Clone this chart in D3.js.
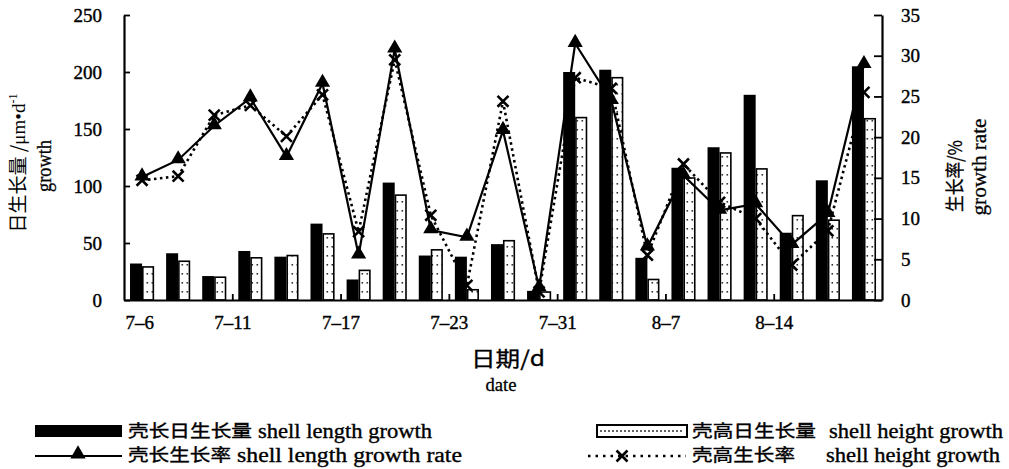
<!DOCTYPE html>
<html>
<head>
<meta charset="utf-8">
<script src="https://cdn.jsdelivr.net/npm/d3@7"></script>
<style>
  html, body { margin: 0; padding: 0; background: #fff; }
  svg { display: block; }
  text { fill: #000; }
</style>
</head>
<body>
<svg id="chart" width="1009" height="469"></svg>
<script>
// Daily growth (μm/d) of shell length and shell height, per sampling interval
const lengthGrowth = [32, 41, 21, 43, 38, 67, 18, 103, 39, 38, 49, 8, 200, 202, 37, 116, 134, 180, 59, 105, 205];
const heightGrowth = [29, 34, 20, 37, 39, 58, 26, 92, 44, 9, 52, 7, 160, 195, 18, 107, 129, 115, 74, 70, 159];
// Growth rate (%) of shell length and shell height
const lengthRate = [15.1, 17.2, 21.4, 24.8, 17.6, 26.6, 5.5, 30.8, 8.6, 7.7, 20.8, 1.5, 31.5, 24.5, 6.5, 15.3, 11.0, 11.8, 6.8, 10.6, 28.9];
const heightRate = [14.7, 15.2, 22.7, 23.9, 20.1, 25.2, 8.4, 29.5, 10.4, 1.8, 24.4, 1.0, 27.3, 26.0, 5.5, 16.7, 12.0, 10.0, 4.3, 8.5, 25.5];
// Date labels, one every third sampling interval
const dateLabels = ["7-6", "7-11", "7-17", "7-23", "7-31", "8-7", "8-14"];
const labelStep = 3;
const growthTicks = [0, 50, 100, 150, 200, 250];
const rateTicks = [0, 5, 10, 15, 20, 25, 30, 35];

const SERIF = '"Liberation Serif", "DejaVu Serif", serif';
const CJK = '"Noto Sans CJK SC", sans-serif';

const svg = d3.select("#chart");
const plotL = 124, plotR = 882, plotT = 15, plotB = 300;
const samples = d3.range(lengthGrowth.length);

const x = d3.scaleBand().domain(samples).range([plotL, plotR])
  .paddingInner(1 / 3).paddingOuter(1 / 6);
const xSub = d3.scaleBand().domain(["length", "height"]).range([0, x.bandwidth()]);
const xIdx = d3.scaleLinear().domain([0, samples.length]).range([plotL, plotR]);
const yL = d3.scaleLinear().domain([0, 250]).range([plotB, plotT]);
const yR = d3.scaleLinear().domain([0, 35]).range([plotB, plotT]);

// dotted fill for shell height bars
const defs = svg.append("defs");
const pat = defs.append("pattern").attr("id", "dots")
  .attr("patternUnits", "userSpaceOnUse").attr("width", 5).attr("height", 9);
pat.append("rect").attr("width", 5).attr("height", 9).attr("fill", "#fff");
pat.append("rect").attr("x", 1.5).attr("y", 3).attr("width", 1.6).attr("height", 1.6).attr("fill", "#333");

// bars
const g = svg.append("g");
g.selectAll("rect.len").data(lengthGrowth).join("rect").attr("class", "len")
  .attr("x", (d, i) => x(i) + xSub("length"))
  .attr("y", d => yL(d))
  .attr("width", xSub.bandwidth())
  .attr("height", d => yL(0) - yL(d))
  .attr("fill", "#000");
g.selectAll("rect.hgt").data(heightGrowth).join("rect").attr("class", "hgt")
  .attr("x", (d, i) => x(i) + xSub("height") + 0.75)
  .attr("y", d => yL(d))
  .attr("width", xSub.bandwidth() - 1.5)
  .attr("height", d => yL(0) - yL(d))
  .attr("fill", "url(#dots)").attr("stroke", "#000").attr("stroke-width", 1.6);

// growth-rate lines
const cx = i => x(i) + x.bandwidth() / 2;
const lineR = d3.line().x((d, i) => cx(i)).y(d => yR(d));
svg.append("path").datum(heightRate).attr("d", lineR)
  .attr("fill", "none").attr("stroke", "#000").attr("stroke-width", 2.6)
  .attr("stroke-dasharray", "2.5 3.5");
svg.append("path").datum(lengthRate).attr("d", lineR)
  .attr("fill", "none").attr("stroke", "#000").attr("stroke-width", 2.2);

const tri = d3.symbol().type(d3.symbolTriangle).size(100);
const cross = d3.symbol().type(d3.symbolX).size(80);
svg.selectAll("path.xm").data(heightRate).join("path").attr("class", "xm")
  .attr("transform", (d, i) => `translate(${cx(i)},${yR(d)})`)
  .attr("d", cross).attr("fill", "none").attr("stroke", "#000").attr("stroke-width", 2.6);
svg.selectAll("path.tm").data(lengthRate).join("path").attr("class", "tm")
  .attr("transform", (d, i) => `translate(${cx(i)},${yR(d) - 1})`)
  .attr("d", tri).attr("fill", "#000");

// axes
const axisStyle = sel => {
  sel.attr("font-family", null).attr("font-size", null);
  sel.select(".domain").attr("stroke", "#000").attr("stroke-width", 2.2);
  sel.selectAll(".tick line").attr("stroke", "#000").attr("stroke-width", 1.8);
  sel.selectAll(".tick text").style("font-size", "19px").style("font-family", SERIF)
    .attr("stroke", "#000").attr("stroke-width", 0.4);
};
svg.append("g").attr("transform", `translate(${plotL},0)`)
  .call(d3.axisLeft(yL).tickValues(growthTicks).tickSizeInner(-6).tickSizeOuter(0).tickPadding(22))
  .call(axisStyle);
svg.append("g").attr("transform", `translate(${plotR},0)`)
  .call(d3.axisRight(yR).tickValues(rateTicks).tickSizeInner(-8).tickSizeOuter(0).tickPadding(19))
  .call(axisStyle);
const xAxis = svg.append("g").attr("transform", `translate(0,${plotB})`)
  .call(d3.axisBottom(xIdx).tickValues(dateLabels.map((d, i) => i * labelStep))
    .tickFormat((d, i) => dateLabels[i].replace("-", "–")).tickSizeInner(-6).tickSizeOuter(0).tickPadding(16))
  .call(axisStyle);
xAxis.selectAll(".tick").filter(d => d === 0).select("line").remove();
xAxis.selectAll(".tick").filter(d => d === 0).select("text").attr("text-anchor", "start").attr("x", 1);

// axis titles
const label = (tx, ty, rot, str, size, family, len) => {
  const t = svg.append("text")
    .attr("transform", `translate(${tx},${ty}) rotate(${rot})`)
    .attr("text-anchor", "middle").style("font-size", size + "px").style("font-family", family)
    .attr("stroke", "#000").attr("stroke-width", 0.3).text(str);
  if (len) t.attr("textLength", len).attr("lengthAdjust", "spacingAndGlyphs");
  return t;
};
const lt = svg.append("text").attr("transform", "translate(25,163) rotate(-90)")
  .attr("text-anchor", "middle").style("font-size", "19px").style("font-family", SERIF);
lt.append("tspan").style("font-family", CJK).text("日生长量 /");
lt.append("tspan").text("μm•d");
lt.append("tspan").style("font-size", "12px").attr("dy", -8).text("-1");
label(51, 166, -90, "growth", 20, SERIF, 52);
label(962, 176, -90, "生长率/%", 19, CJK, 72);
label(986, 167, -90, "growth rate", 20, SERIF, 97);
label(508, 366, 0, "日期/d", 21, CJK, 74);
label(501, 391, 0, "date", 19, SERIF, 31);

// legend
const lg = svg.append("g");
lg.append("rect").attr("x", 35).attr("y", 425).attr("width", 87).attr("height", 12).attr("fill", "#000");
lg.append("rect").attr("x", 597).attr("y", 425).attr("width", 90).attr("height", 12)
  .attr("fill", "#fff").attr("stroke", "#000").attr("stroke-width", 2);
lg.append("line").attr("x1", 600).attr("x2", 684).attr("y1", 431).attr("y2", 431)
  .attr("stroke", "#333").attr("stroke-width", 1.5).attr("stroke-dasharray", "2 2");
lg.append("line").attr("x1", 35).attr("x2", 122).attr("y1", 456).attr("y2", 456)
  .attr("stroke", "#000").attr("stroke-width", 2.2);
lg.append("path").attr("transform", "translate(78,454)").attr("d", tri).attr("fill", "#000");
lg.append("line").attr("x1", 588).attr("x2", 686).attr("y1", 456).attr("y2", 456)
  .attr("stroke", "#000").attr("stroke-width", 2.6).attr("stroke-dasharray", "2.5 5");
lg.append("path").attr("transform", "translate(622,456)").attr("d", cross)
  .attr("fill", "none").attr("stroke", "#000").attr("stroke-width", 2.6);
const legendText = (tx, ty, str, size, family, len) => lg.append("text")
  .attr("x", tx).attr("y", ty).style("font-size", size + "px").style("font-family", family)
  .attr("stroke", "#000").attr("stroke-width", 0.35)
  .attr("textLength", len).attr("lengthAdjust", "spacingAndGlyphs").text(str);
legendText(128, 437, "壳长日生长量", 16.5, CJK, 124);
legendText(258, 438, "shell length growth", 20, SERIF, 174);
legendText(128, 461, "壳长生长率", 16.5, CJK, 103);
legendText(237, 462, "shell length growth rate", 20, SERIF, 225);
legendText(692, 437, "壳高日生长量", 16.5, CJK, 124);
legendText(829, 438, "shell height growth", 20, SERIF, 174);
legendText(692, 461, "壳高生长率", 16.5, CJK, 103);
legendText(826, 462, "shell height growth", 20, SERIF, 174);
</script>
</body>
</html>
